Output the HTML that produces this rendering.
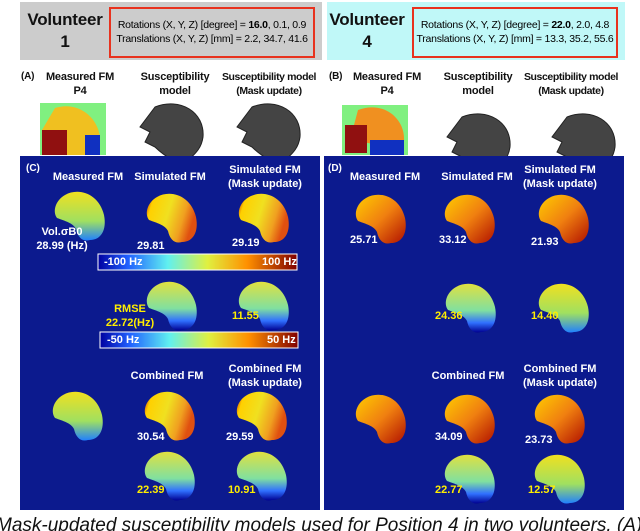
<!DOCTYPE html>
<html><head><meta charset="utf-8"><style>
body{margin:0;width:640px;height:531px;background:#fff;overflow:hidden;font-family:"Liberation Sans",sans-serif;position:relative}
.a{position:absolute;white-space:nowrap}
.h{font-weight:bold;font-size:11px;text-align:center;color:#111;line-height:14px;letter-spacing:-0.2px}
.w{color:#fff;font-weight:bold;font-size:11px;text-align:center;line-height:14px}
.y{color:#ffee00;font-weight:bold;font-size:11px}
.n{color:#fff;font-weight:bold;font-size:11px}
</style></head><body>
<div class="a" style="left:20px;top:2px;width:302px;height:58px;background:#cccccc"></div>
<div class="a" style="left:327px;top:2px;width:298px;height:58px;background:#c0f8f8"></div>
<div class="a h" style="left:20px;top:9px;width:90px;font-size:17px;line-height:22px">Volunteer<br>1</div>
<div class="a h" style="left:322px;top:9px;width:90px;font-size:17px;line-height:22px">Volunteer<br>4</div>
<div class="a" style="left:109px;top:7px;width:206px;height:51px;border:2px solid #e8321e;box-sizing:border-box;font-size:10.5px;letter-spacing:-0.25px;text-align:center;line-height:14px;padding-top:9px">Rotations (X, Y, Z) [degree] = <b>16.0</b>, 0.1, 0.9<br>Translations (X, Y, Z) [mm] = 2.2, 34.7, 41.6</div>
<div class="a" style="left:412px;top:7px;width:206px;height:51px;border:2px solid #e8321e;box-sizing:border-box;font-size:10.5px;letter-spacing:-0.25px;text-align:center;line-height:14px;padding-top:9px">Rotations (X, Y, Z) [degree] = <b>22.0</b>, 2.0, 4.8<br>Translations (X, Y, Z) [mm] = 13.3, 35.2, 55.6</div>

<div class="a h" style="left:21px;top:70px;font-size:10px">(A)</div>
<div class="a h" style="left:35px;top:70px;width:90px">Measured FM<br>P4</div>
<div class="a h" style="left:130px;top:70px;width:90px">Susceptibility<br>model</div>
<div class="a h" style="left:216px;top:70px;width:106px;font-size:10.5px;letter-spacing:-0.4px">Susceptibility model<br>(Mask update)</div>
<div class="a h" style="left:329px;top:70px;font-size:10px">(B)</div>
<div class="a h" style="left:342px;top:70px;width:90px">Measured FM<br>P4</div>
<div class="a h" style="left:433px;top:70px;width:90px">Susceptibility<br>model</div>
<div class="a h" style="left:518px;top:70px;width:106px;font-size:10.5px;letter-spacing:-0.4px">Susceptibility model<br>(Mask update)</div>

<svg class="a" style="left:0;top:0" width="640" height="531">
<defs>
<linearGradient id="fm" x1="0" y1="0" x2="1" y2="0.3"><stop offset="0" stop-color="#c01000"/><stop offset="0.15" stop-color="#ffd000"/><stop offset="0.5" stop-color="#f0e020"/><stop offset="0.8" stop-color="#f0a020"/><stop offset="1" stop-color="#e05010"/></linearGradient>
<linearGradient id="fmv" x1="0" y1="0" x2="0" y2="1"><stop offset="0" stop-color="#f0e020"/><stop offset="0.6" stop-color="#a0e060"/><stop offset="1" stop-color="#2080ff"/></linearGradient>
<linearGradient id="fmr" x1="0" y1="0" x2="1" y2="1"><stop offset="0" stop-color="#ffcc00"/><stop offset="0.5" stop-color="#f08010"/><stop offset="1" stop-color="#b01000"/></linearGradient>
<linearGradient id="err" x1="0" y1="0" x2="0" y2="1"><stop offset="0" stop-color="#e0e040"/><stop offset="0.55" stop-color="#80e0a0"/><stop offset="0.8" stop-color="#3070ff"/><stop offset="1" stop-color="#000090"/></linearGradient>
<linearGradient id="cb1" x1="0" x2="1"><stop offset="0" stop-color="#0000a0"/><stop offset="0.15" stop-color="#2060ff"/><stop offset="0.35" stop-color="#60f0f0"/><stop offset="0.55" stop-color="#e0f040"/><stop offset="0.75" stop-color="#ff9000"/><stop offset="1" stop-color="#800000"/></linearGradient>
<path id="brain" d="M11,5 C25,-3 45,4 50,25 C53,40 47,50 36,50 C29,52 24,48 22,39 C19,33 11,31 3,28 C-2,21 2,10 11,5Z"/>
<path id="head" d="M20,5 C45,-5 70,10 68,35 C66,50 55,55 52,60 L40,60 C32,55 25,50 20,45 L10,40 L15,30 L5,25 Z"/>
</defs>
<rect x="40" y="103" width="66" height="52" fill="#80f080"/>
<path d="M55,108 C80,100 100,120 100,140 L100,155 L45,155 L42,130 Z" fill="#f0c020"/>
<rect x="42" y="130" width="25" height="25" fill="#901010"/>
<rect x="85" y="135" width="15" height="20" fill="#1030c0"/>
<rect x="342" y="105" width="66" height="50" fill="#80f080"/>
<path d="M358,110 C385,100 405,120 404,140 L380,145 L350,140 Z" fill="#f09020"/>
<rect x="345" y="125" width="22" height="28" fill="#901010"/>
<rect x="370" y="140" width="34" height="15" fill="#1030c0"/>
<use href="#head" x="135" y="102" fill="#444" stroke="#222"/>
<use href="#head" x="232" y="102" fill="#444" stroke="#222"/>
<use href="#head" x="442" y="112" fill="#444" stroke="#222"/>
<use href="#head" x="547" y="112" fill="#444" stroke="#222"/>
<rect x="20" y="156" width="300" height="354" fill="#0c1a8e"/>
<rect x="324" y="156" width="300" height="354" fill="#0c1a8e"/>
<g id="brains"></g>
<rect x="98" y="254" width="199" height="16" fill="url(#cb1)" stroke="#fff"/>
<rect x="100" y="332" width="198" height="16" fill="url(#cb1)" stroke="#fff"/>
</svg>
<script>
const brainsLeft=[[54,190,'fmv'],[146,192,'fm'],[238,192,'fm'],[146,280,'err'],[238,280,'err'],[52,390,'fmv'],[144,390,'fm'],[236,390,'fm'],[144,450,'err'],[236,450,'err']];
const brainsRight=[[355,193,'fmr'],[444,193,'fmr'],[538,193,'fmr'],[445,282,'err'],[538,282,'fmv'],[355,393,'fmr'],[444,393,'fmr'],[534,393,'fmr'],[444,453,'err'],[534,453,'fmv']];
const g=document.getElementById('brains');
brainsLeft.concat(brainsRight).forEach(function(b,i){
 const u=document.createElementNS('http://www.w3.org/2000/svg','use');
 u.setAttribute('href','#brain');u.setAttribute('x',b[0]);u.setAttribute('y',b[1]);u.setAttribute('fill','url(#'+b[2]+')');
 
 
 g.appendChild(u);
});
</script>
<div class="a n" style="left:26px;top:163px;font-size:10px">(C)</div>
<div class="a w" style="left:43px;top:170px;width:90px">Measured FM</div>
<div class="a w" style="left:125px;top:170px;width:90px">Simulated FM</div>
<div class="a w" style="left:215px;top:163px;width:100px">Simulated FM<br>(Mask update)</div>
<div class="a w" style="left:27px;top:225px;width:70px">Vol.σB0<br>28.99 (Hz)</div>
<div class="a n" style="left:137px;top:240px">29.81</div>
<div class="a n" style="left:232px;top:237px">29.19</div>
<div class="a n" style="left:104px;top:256px">-100 Hz</div>
<div class="a n" style="left:262px;top:256px">100 Hz</div>
<div class="a y" style="left:100px;top:302px;width:60px;text-align:center;line-height:14px">RMSE<br>22.72(Hz)</div>
<div class="a y" style="left:232px;top:310px">11.55</div>
<div class="a n" style="left:107px;top:334px">-50 Hz</div>
<div class="a n" style="left:267px;top:334px">50 Hz</div>
<div class="a w" style="left:122px;top:369px;width:90px">Combined FM</div>
<div class="a w" style="left:215px;top:362px;width:100px">Combined FM<br>(Mask update)</div>
<div class="a n" style="left:137px;top:431px">30.54</div>
<div class="a n" style="left:226px;top:431px">29.59</div>
<div class="a y" style="left:137px;top:484px">22.39</div>
<div class="a y" style="left:228px;top:484px">10.91</div>

<div class="a n" style="left:328px;top:163px;font-size:10px">(D)</div>
<div class="a w" style="left:340px;top:170px;width:90px">Measured FM</div>
<div class="a w" style="left:432px;top:170px;width:90px">Simulated FM</div>
<div class="a w" style="left:510px;top:163px;width:100px">Simulated FM<br>(Mask update)</div>
<div class="a n" style="left:350px;top:234px">25.71</div>
<div class="a n" style="left:439px;top:234px">33.12</div>
<div class="a n" style="left:531px;top:236px">21.93</div>
<div class="a y" style="left:435px;top:310px">24.36</div>
<div class="a y" style="left:531px;top:310px">14.40</div>
<div class="a w" style="left:423px;top:369px;width:90px">Combined FM</div>
<div class="a w" style="left:510px;top:362px;width:100px">Combined FM<br>(Mask update)</div>
<div class="a n" style="left:435px;top:431px">34.09</div>
<div class="a n" style="left:525px;top:434px">23.73</div>
<div class="a y" style="left:435px;top:484px">22.77</div>
<div class="a y" style="left:528px;top:484px">12.57</div>
<div class="a" style="left:0;top:512px;width:640px;height:19px;overflow:hidden">
<div class="a" style="left:-4px;top:3px;font-size:19px;font-style:italic;color:#111">Mask-updated susceptibility models used for Position 4 in two volunteers. (A)</div>
</div>
</body></html>
